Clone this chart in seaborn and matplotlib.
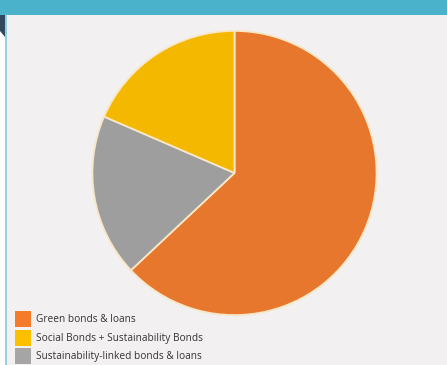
import matplotlib
matplotlib.use("Agg")
import matplotlib.pyplot as plt
import matplotlib.patches as mpatches
from matplotlib.lines import Line2D
import seaborn as sns

sns.set_theme(style="white")
plt.rcParams['font.family'] = ['Open Sans', 'DejaVu Sans']

# Data
categories = ["Green bonds & loans", "Social Bonds + Sustainability Bonds",
              "Sustainability-linked bonds & loans"]
shares = [63.0, 18.5, 18.5]
pie_colors = ["#E8772E", "#F4B800", "#9E9E9E"]
legend_colors = ["#F57B2A", "#FDC000", "#A5A5A5"]
# drawing order clockwise from top: Green, Sustainability-linked, Social
draw_order = [0, 2, 1]

W, H = 447, 365
fig = plt.figure(figsize=(W / 100, H / 100), dpi=100)
fig.patch.set_facecolor("#F2F0F0")

# header band and left decorations
fig.patches.append(mpatches.Rectangle((0, 1 - 15 / H), 1, 15 / H, transform=fig.transFigure,
                                      facecolor="#4BB2CB", edgecolor="none", zorder=0))
fig.patches.append(mpatches.Rectangle((0, 0), 6 / W, 1 - 15 / H, transform=fig.transFigure,
                                      facecolor="#FFFFFF", edgecolor="none", zorder=0))
fig.patches.append(mpatches.Polygon([(0, 1 - 15 / H), (5 / W, 1 - 15 / H), (5 / W, 1 - 37 / H),
                                     (0, 1 - 31 / H)], closed=True, transform=fig.transFigure,
                                    facecolor="#33475F", edgecolor="none", zorder=1))
fig.lines.append(Line2D([6 / W, 6 / W], [0, 1 - 15 / H], transform=fig.transFigure,
                        color="#7FC8DC", linewidth=1.2, zorder=1))

cx, cy, r = 234.5, 173.0, 143.5
ax = fig.add_axes([(cx - r) / W, (H - cy - r) / H, 2 * r / W, 2 * r / H])
vals = [shares[i] for i in draw_order]
cols = [pie_colors[i] for i in draw_order]
ax.pie(vals, colors=cols, startangle=90, counterclock=False, radius=1,
       wedgeprops=dict(edgecolor="#F8E7C6", linewidth=1.3))
ax.set_xlim(-1.01, 1.01)
ax.set_ylim(-1.01, 1.01)
ax.set_aspect("equal")
ax.axis("off")

handles = [mpatches.Patch(facecolor=c, edgecolor="none") for c in legend_colors]
fs = 7.3
fig.legend(handles, categories, loc="upper left", bbox_to_anchor=(15 / W, 1 - 311 / H),
           frameon=False, fontsize=fs, handlelength=1.58, handleheight=2.05,
           labelspacing=0.25, handletextpad=0.5, borderpad=0, borderaxespad=0,
           labelcolor="#333333")

fig.savefig("out.png", dpi=100, facecolor=fig.get_facecolor())
